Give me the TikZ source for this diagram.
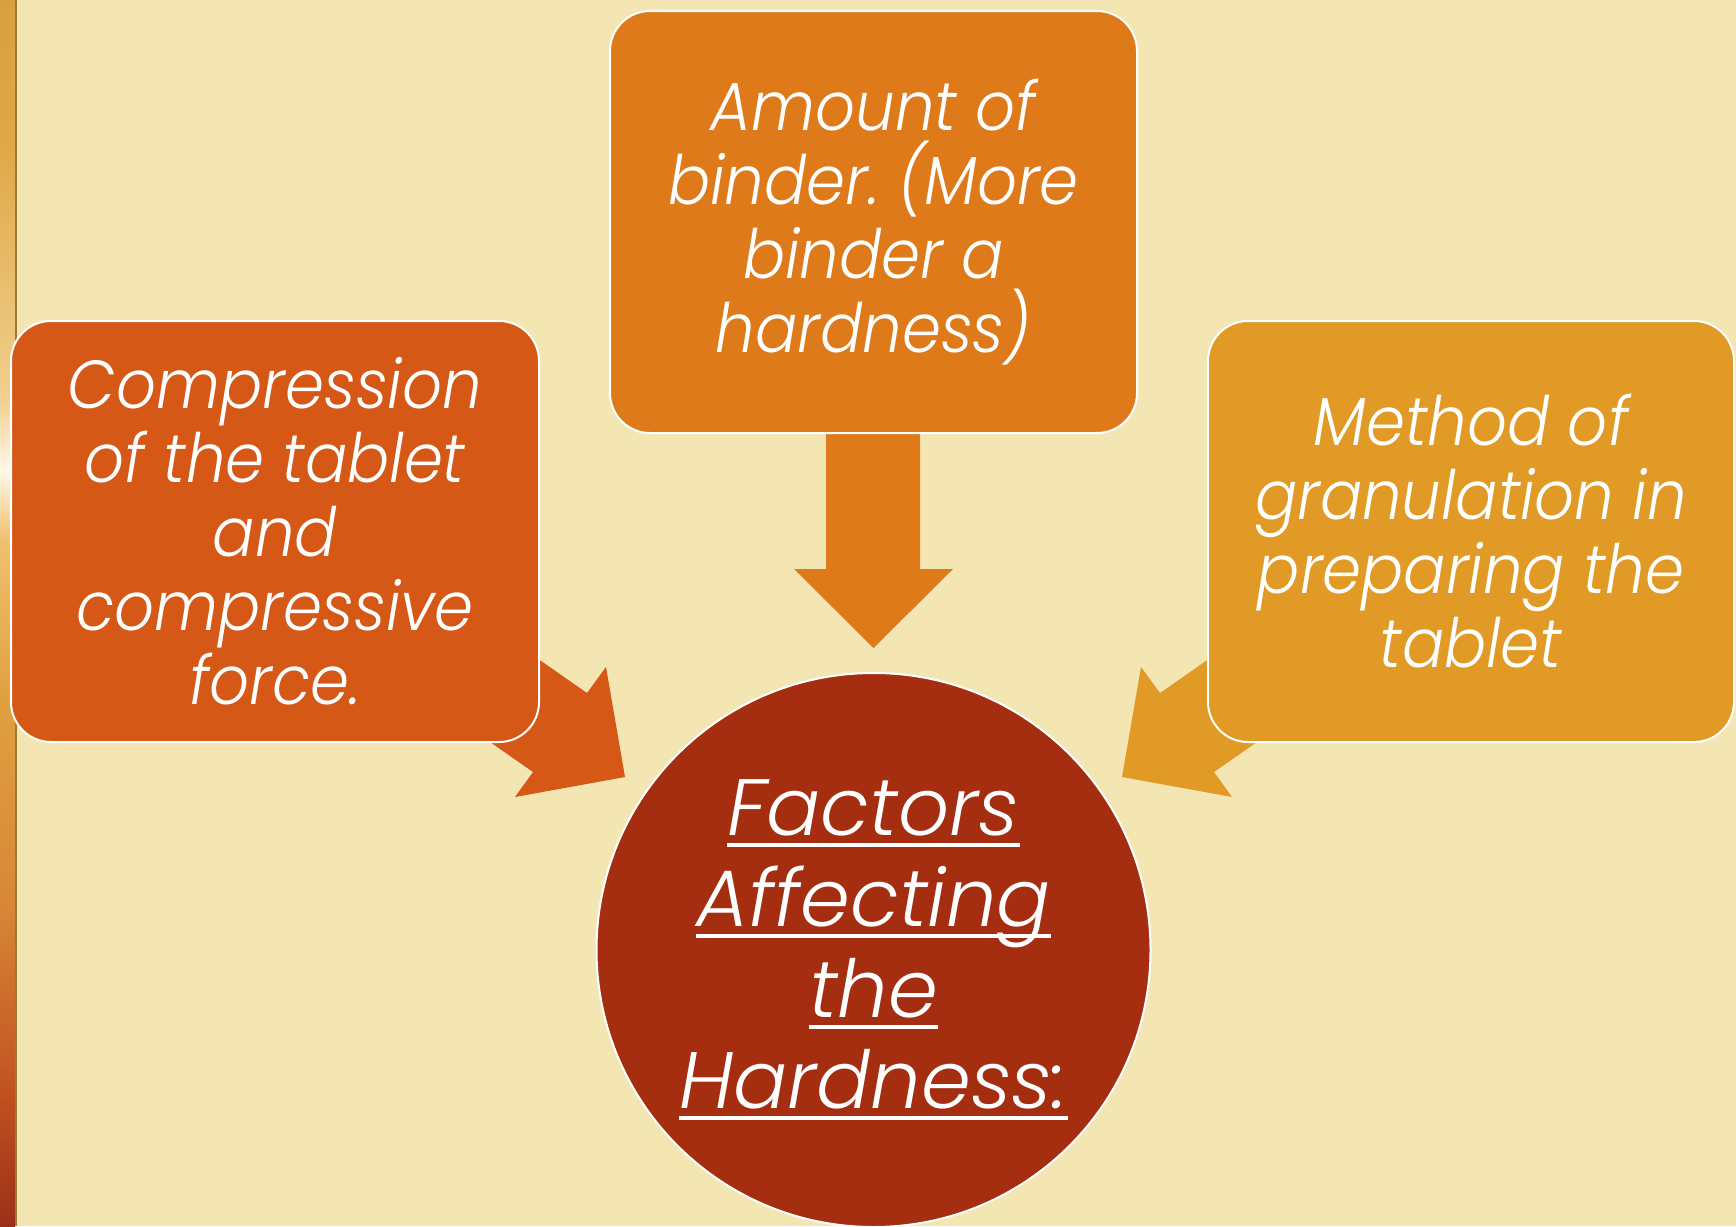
\documentclass[tikz,border=0pt]{standalone}
\usepackage{fontspec}
\setmainfont{Poppins}[UprightFont=* Light, ItalicFont=* Light Italic]
\newfontfamily\cardfont{Poppins}[UprightFont=* Light, ItalicFont=* Light Italic, FakeStretch=0.92]
\definecolor{paper}{HTML}{F4E6B3}
\definecolor{compfill}{HTML}{D55816}
\definecolor{bindfill}{HTML}{DF7A1B}
\definecolor{granfill}{HTML}{E19A25}
\definecolor{hardfill}{HTML}{A52D10}
\definecolor{edgeA}{HTML}{9A3018}
\definecolor{edgeB}{HTML}{C05020}
\definecolor{edgeC}{HTML}{D88838}
\definecolor{edgeD}{HTML}{E0A040}
\definecolor{edgeE}{HTML}{F0C070}
\definecolor{edgeF}{HTML}{FFF8E8}
\definecolor{edgeG}{HTML}{F0D090}
\definecolor{edgeH}{HTML}{E0A848}
\definecolor{edgeI}{HTML}{D9A040}
\definecolor{edgeline}{HTML}{A07830}
% words with a line under them, drawn through descenders
\newcommand\ulword[1]{\setbox0=\hbox{#1}\rlap{\rule[-0.14em]{\wd0}{0.045em}}\box0}
\begin{document}
\begin{tikzpicture}[x=1pt,y=-1pt,
  card/.style={draw=white, line width=2pt, rounded corners=40pt,
    inner sep=0pt, text=white, align=center,
    font=\cardfont\fontsize{68}{74}\selectfont\itshape},
  hub/.style={circle, draw=white, line width=2pt, inner sep=0pt,
    text=white, align=center, font=\fontsize{80}{91}\selectfont\itshape},
  blockarrow/.style={draw=none}]
\useasboundingbox (0,0) rectangle (1736,1226);
\fill[paper] (0,0) rectangle (1736,1226);
% decorative band on the left edge, shaded in stacked segments
\shade[top color=edgeI, bottom color=edgeH] (0,0) rectangle (15,150);
\shade[top color=edgeH, bottom color=edgeG] (0,150) rectangle (15,400);
\shade[top color=edgeG, bottom color=edgeF] (0,400) rectangle (15,470);
\shade[top color=edgeF, bottom color=edgeE] (0,470) rectangle (15,540);
\shade[top color=edgeE, bottom color=edgeD] (0,540) rectangle (15,700);
\shade[top color=edgeD, bottom color=edgeC] (0,700) rectangle (15,900);
\shade[top color=edgeC, bottom color=edgeB] (0,900) rectangle (15,1100);
\shade[top color=edgeB, bottom color=edgeA] (0,1100) rectangle (15,1226);
\fill[edgeline] (15,0) rectangle (17,1226);

% block arrows (drawn first so the cards cover their tails)
\fill[blockarrow, compfill] (458,603) -- (587,693) -- (606,667) -- (625,777)
  -- (515,797) -- (533,772) -- (404,682) -- cycle;
\fill[blockarrow, granfill] (1289,603) -- (1160,693) -- (1141,667) -- (1122,777)
  -- (1232,797) -- (1214,772) -- (1343,682) -- cycle;
\fill[blockarrow, bindfill] (826,434) -- (920,434) -- (920,569) -- (953,569)
  -- (873.5,648) -- (794,569) -- (826,569) -- cycle;

% the three factor cards
\node[card, fill=compfill, minimum width=528pt, minimum height=421pt]
  (comp) at (275,531.5)
  {Compression\\of the tablet\\and\\compressive\\force.};
\node[card, fill=bindfill, minimum width=527pt, minimum height=422pt]
  (bind) at (873.5,222)
  {Amount of\\binder.\ (More\\binder a\\hardness)};
\node[card, fill=granfill, minimum width=526pt, minimum height=421pt]
  (gran) at (1471,531.5)
  {Method of\\granulation in\\preparing the\\tablet};

% central circle
\node[hub, fill=hardfill, minimum size=554pt] (hard) at (873.5,950)
  {\ulword{Factors}\\\ulword{Affecting}\\\ulword{the}\\\ulword{Hardness:}};
\end{tikzpicture}
\end{document}
